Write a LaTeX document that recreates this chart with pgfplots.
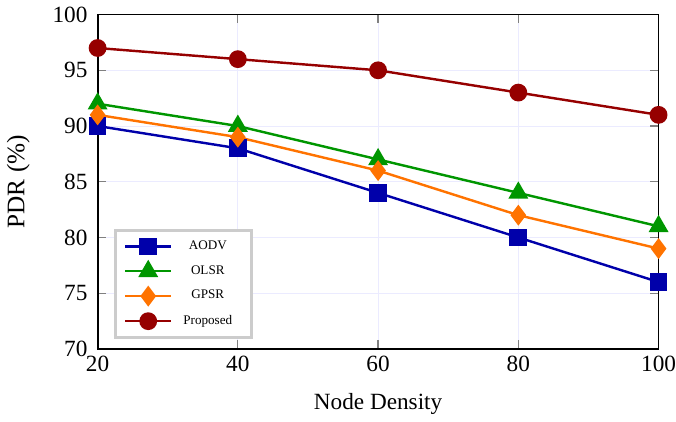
\documentclass[border=0pt]{standalone}
\usepackage{fontspec}
\setmainfont{Liberation Serif}
\usepackage{pgfplots}
\pgfplotsset{compat=1.18}
\definecolor{caodv}{RGB}{0,0,170}
\definecolor{colsr}{RGB}{0,150,0}
\definecolor{cgpsr}{RGB}{255,115,0}
\definecolor{cprop}{RGB}{150,0,0}
\newcommand{\legbox}[1]{\makebox[31pt]{#1}}
\begin{document}
\begin{tikzpicture}
\begin{axis}[
  scale only axis,
  width=277.7pt, height=165.5pt,
  xmin=20, xmax=100, ymin=70, ymax=100,
  xtick={20,40,60,80,100},
  ytick={70,75,80,85,90,95,100},
  /pgf/number format/assume math mode=true,
  tick label style={font=\fontsize{11.5}{13}\selectfont},
  yticklabel style={xshift=-1.5pt},
  xticklabel style={inner xsep=0pt},
  label style={font=\fontsize{11.5}{13}\selectfont},
  xlabel={Node Density},
  xlabel style={yshift=-4pt},
  ylabel={PDR (\%)},
  ylabel style={yshift=4.5pt, font=\fontsize{12.5}{14}\selectfont},
  grid=major,
  major grid style={color=blue!8!white, line width=0.5pt},
  major tick style={gray, line width=0.6pt},
  axis line style={line width=0.9pt},
  legend style={at={(0.03,0.03)}, anchor=south west, draw=black!20, line width=1.5pt,
    font=\fontsize{6.5}{8}\selectfont, row sep=2.5pt, inner xsep=4pt, inner ysep=3pt},
  legend cell align=center,
  legend image code/.code={\draw[mark repeat=2,mark phase=2] plot coordinates {(0cm,0cm) (0.4cm,0cm) (0.8cm,0cm)};},
  every axis plot/.append style={line width=1.2pt},
]
\addplot[color=caodv, mark=square*, mark size=3.8pt, mark options={solid}] coordinates {(20,90) (40,88) (60,84) (80,80) (100,76)};
\addlegendentry{\legbox{AODV}}
\addplot[color=colsr, mark=triangle*, mark size=4.5pt] coordinates {(20,92) (40,90) (60,87) (80,84) (100,81)};
\addlegendentry{\legbox{OLSR}}
\addplot[color=cgpsr, mark=diamond*, mark size=4.2pt] coordinates {(20,91) (40,89) (60,86) (80,82) (100,79)};
\addlegendentry{\legbox{GPSR}}
\addplot[color=cprop, mark=*, mark size=3.8pt] coordinates {(20,97) (40,96) (60,95) (80,93) (100,91)};
\addlegendentry{\legbox{Proposed}}
\end{axis}
\end{tikzpicture}
\end{document}
